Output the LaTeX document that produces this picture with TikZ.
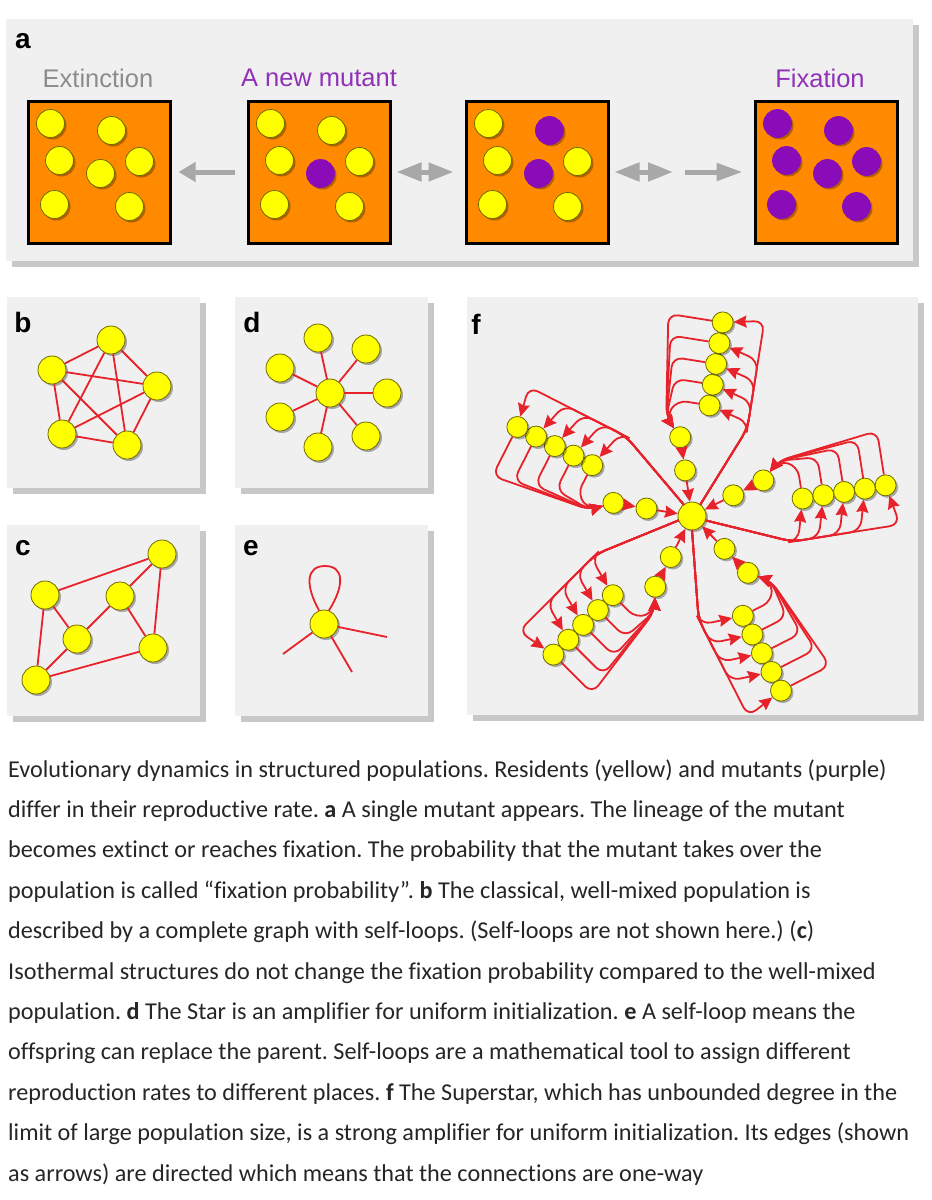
\documentclass[tikz,border=0pt]{standalone}
\usepackage{fontspec}
\setmainfont{Carlito}[Ligatures=NoCommon]
\newfontfamily\labfont{Liberation Sans}
\usetikzlibrary{positioning,arrows.meta,calc,shadows}
\definecolor{panelbg}{HTML}{F0F0F0}
\definecolor{panelshade}{HTML}{C8C8C8}
\definecolor{popfill}{HTML}{FF8A00}
\definecolor{resyellow}{HTML}{FFFF00}
\definecolor{resrim}{HTML}{6F6A00}
\definecolor{mutpurple}{HTML}{8A0CB8}
\definecolor{labpurple}{HTML}{9031B8}
\definecolor{labgray}{HTML}{8C8C8C}
\definecolor{linkred}{HTML}{E8222A}
\definecolor{stepgray}{HTML}{A8A8A8}
\definecolor{captext}{HTML}{262626}
\frenchspacing

\tikzset{
  panel/.style={fill=panelbg},
  panelshadow/.style={fill=panelshade},
  panelletter/.style={font=\labfont\bfseries\fontsize{28}{30}\selectfont, inner sep=0pt},
  statelabel/.style={font=\labfont\fontsize{25.5}{28}\selectfont, inner sep=0pt},
  popbox/.style={draw=black, line width=3pt, fill=popfill, minimum size=142pt, inner sep=0pt},
  cell/.style={circle, inner sep=0pt, line width=0.8pt,
    drop shadow={shadow xshift=2pt, shadow yshift=-2pt, opacity=0.3, fill=black}},
  resident/.style={cell, minimum size=28pt, fill=resyellow, draw=resrim},
  mutant/.style={cell, minimum size=28pt, fill=mutpurple, draw=mutpurple},
  gcell/.style={cell, minimum size=28pt, fill=resyellow, draw=resrim},
  fcell/.style={cell, minimum size=21pt, fill=resyellow, draw=resrim},
  hubcell/.style={cell, minimum size=28pt, fill=resyellow, draw=resrim},
  link/.style={draw=linkred, line width=1.8pt},
  redarr/.style={draw=linkred, line width=1.8pt, -{Stealth[length=13pt,width=12pt,inset=1.5pt]}},
  stepline/.style={draw=stepgray, line width=5pt},
  capline/.style={anchor=base west, inner sep=0pt, text=captext, font=\fontsize{24.2}{28}\selectfont}
}

\begin{document}
\begin{tikzpicture}[x=1pt, y=-1pt]
\useasboundingbox (0,0) rectangle (932,1200);
\fill[white] (0,0) rectangle (932,1200);

% ---- panel a ----
\fill[panelshadow] (12,25) rectangle (919,267);
\fill[panel] (6,19) rectangle (913,261);
\node[panelletter] (la) at (23,41) {a};
\node[statelabel, text=labgray] (ext) at (98,78) {Extinction};
\node[statelabel, text=labpurple] (newm) at (319,78) {A new mutant};
\node[statelabel, text=labpurple] (fix) at (820,78) {Fixation};

\node[popbox] (box1) at (99,172) {};
\node[popbox] (box2) at (319,172) {};
\node[popbox] (box3) at (537,172) {};
\node[popbox] (box4) at (826,172) {};

\foreach \bx/\mset in {box1/{}, box2/{5}, box3/{2,5}, box4/{1,2,3,4,5,6,7}}{
  \foreach [count=\n] \px/\py in {24/24, 85/31, 33/61, 113/62, 74/74, 28/105, 103/107}{
    \def\kind{resident}
    \foreach \m in \mset {\ifnum\m=\n\relax\xdef\kind{mutant}\fi}
    \node[\kind] (\bx-c\n) at ($(\bx.north west)+(\px,\py)$) {};
    \gdef\kind{resident}
  }
}

\coordinate (m34) at (679,172);
\draw[stepline, -{Triangle[length=17pt,width=19pt]}, shorten <=12pt, shorten >=7pt] (box2) -- (box1);
\draw[stepline, {Triangle[length=25pt,width=18pt]}-{Triangle[length=25pt,width=18pt]}, shorten <=5pt, shorten >=11pt] (box2) -- (box3);
\draw[stepline, {Triangle[length=25pt,width=18pt]}-{Triangle[length=25pt,width=18pt]}, shorten <=5pt, shorten >=6pt] (box3) -- (m34);
\draw[stepline, -{Triangle[length=26pt,width=17pt]}, shorten <=6pt, shorten >=11pt] (m34) -- (box4);

% ---- panels b, d, c, e ----
\foreach \x/\y in {7/297, 235/297, 7/525, 235/525}{
  \fill[panelshadow] (\x+6,\y+6) rectangle (\x+199,\y+197);
  \fill[panel] (\x,\y) rectangle (\x+193,\y+191);
}
\node[panelletter] (lb) at (23,322) {b};
\node[panelletter] (ld) at (252,322) {d};
\node[panelletter] (lc) at (23,548) {c};
\node[panelletter] (le) at (251,548) {e};

% b: complete graph
\node[gcell] (b1) at (111,340) {};
\node[gcell] (b2) at (52,370) {};
\node[gcell] (b3) at (157,386) {};
\node[gcell] (b4) at (62,434) {};
\node[gcell] (b5) at (127,445) {};
\foreach \u/\v in {1/2,1/3,1/4,1/5,2/3,2/4,2/5,3/4,3/5,4/5}
  \draw[link] (b\u) -- (b\v);

% d: star
\node[gcell] (dc) at (330,393) {};
\foreach \px/\py [count=\n] in {318/338, 366/349, 280/368, 387/393, 280/417, 366/436, 318/447}{
  \node[gcell] (d\n) at (\px,\py) {};
  \draw[link] (dc) -- (d\n);
}

% c: isothermal
\node[gcell] (c1) at (162,554) {};
\node[gcell] (c2) at (45,595) {};
\node[gcell] (c3) at (120,596) {};
\node[gcell] (c4) at (77,639) {};
\node[gcell] (c5) at (153,648) {};
\node[gcell] (c6) at (36,680) {};
\foreach \u/\v in {1/2,1/3,1/5,2/4,2/6,3/4,3/5,4/6,5/6}
  \draw[link] (c\u) -- (c\v);

% e: self-loop
\node[gcell] (ec) at (324,624) {};
\coordinate (e1) at (283,654);
\coordinate (e2) at (387,637);
\coordinate (e3) at (352,672);
\foreach \n in {1,2,3}
  \draw[link] (ec) -- (e\n);
\draw[link] (ec.110) .. controls (305,585) and (306,566) .. (325,566)
  .. controls (344,566) and (345,585) .. (ec.70);

% ---- panel f: superstar ----
\fill[panelshadow] (473,303) rectangle (924,721);
\fill[panel] (467,297) rectangle (918,715);
\node[panelletter] (lf) at (476,324) {f};
\node[hubcell] (hub) at (692,516) {};

\foreach \k in {0,...,4}{
  \begin{scope}[shift={(hub)}, rotate={81-72*\k}, x=1pt, y=1pt]
    \foreach \i in {0,...,4}
      \node[fcell] (l\k\i) at ({112+21*\i},0) {};
    \node[fcell] (p\k) at (76,24) {};
    \node[fcell] (q\k) at (44,14) {};
    % hub feeds every leaf
    \foreach \i in {0,...,3}
      \draw[redarr, rounded corners=10pt] (-27:14) -- (95,-41) -- ({101+21*\i},-41) -- (l\k\i);
    \draw[redarr, rounded corners=10pt] (-27:14) -- (95,-41) -- (204,-41) -- (l\k4);
    % leaves feed the chain
    \foreach \i in {0,...,4}
      \draw[redarr, rounded corners=10pt] (l\k\i) -- ({112+21*\i},{33+5.5*\i}) -- (94,41) -- (p\k);
    \draw[redarr] (p\k) -- (q\k);
    \draw[redarr] (q\k) -- (hub);
  \end{scope}
}

% ---- caption ----
\node[capline] (cap1) at (8,777) {Evolutionary dynamics in structured populations. Residents (yellow) and mutants (purple)};
\node[capline] (cap2) at (8,817.4) {differ in their reproductive rate. \textbf{a} A single mutant appears. The lineage of the mutant};
\node[capline] (cap3) at (8,857.8) {becomes extinct or reaches fixation. The probability that the mutant takes over the};
\node[capline] (cap4) at (8,898.2) {population is called “fixation probability”. \textbf{b} The classical, well-mixed population is};
\node[capline] (cap5) at (8,938.6) {described by a complete graph with self-loops. (Self-loops are not shown here.) (\textbf{c})};
\node[capline] (cap6) at (8,979) {Isothermal structures do not change the fixation probability compared to the well-mixed};
\node[capline] (cap7) at (8,1019.4) {population. \textbf{d} The Star is an amplifier for uniform initialization. \textbf{e} A self-loop means the};
\node[capline] (cap8) at (8,1059.8) {offspring can replace the parent. Self-loops are a mathematical tool to assign different};
\node[capline] (cap9) at (8,1100.2) {reproduction rates to different places. \textbf{f} The Superstar, which has unbounded degree in the};
\node[capline] (cap10) at (8,1140.6) {limit of large population size, is a strong amplifier for uniform initialization. Its edges (shown};
\node[capline] (cap11) at (8,1181) {as arrows) are directed which means that the connections are one-way};
\end{tikzpicture}
\end{document}
